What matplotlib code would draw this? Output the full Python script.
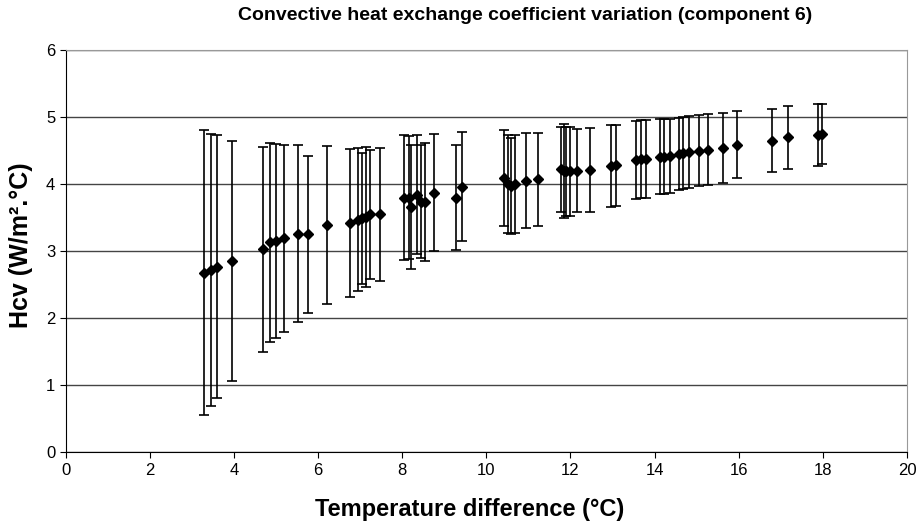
import numpy as np
import matplotlib
matplotlib.use("Agg")
import matplotlib.pyplot as plt

plt.rcParams['font.family'] = ['Liberation Sans', 'DejaVu Sans']

# Temperature difference (°C)
dT = np.array([3.30, 3.45, 3.60, 3.95, 4.69, 4.86, 5.01, 5.20, 5.52, 5.76,
               6.22, 6.77, 6.94, 7.04, 7.14, 7.24, 7.48, 8.04, 8.16, 8.22,
               8.36, 8.46, 8.54, 8.76, 9.27, 9.42, 10.42, 10.52, 10.58, 10.69,
               10.94, 11.23, 11.78, 11.84, 11.90, 11.98, 12.15, 12.47, 12.97, 13.08,
               13.57, 13.68, 13.80, 14.14, 14.23, 14.37, 14.59, 14.67, 14.81, 15.06,
               15.28, 15.63, 15.97, 16.80, 17.17, 17.88, 17.98])

# Hcv (W/m².°C)
hcv = np.array([2.68, 2.72, 2.77, 2.85, 3.03, 3.13, 3.15, 3.19, 3.26, 3.25,
                3.39, 3.42, 3.47, 3.49, 3.51, 3.55, 3.55, 3.80, 3.80, 3.66,
                3.84, 3.74, 3.74, 3.87, 3.80, 3.96, 4.09, 4.00, 3.97, 4.00,
                4.05, 4.07, 4.22, 4.19, 4.19, 4.19, 4.20, 4.21, 4.27, 4.28,
                4.36, 4.37, 4.38, 4.41, 4.41, 4.42, 4.45, 4.46, 4.48, 4.50,
                4.51, 4.54, 4.59, 4.65, 4.70, 4.73, 4.75])

# uncertainty (half width of error bar)
err = np.array([2.12, 2.03, 1.96, 1.79, 1.53, 1.48, 1.45, 1.40, 1.32, 1.17,
                1.18, 1.10, 1.07, 0.98, 1.04, 0.96, 0.99, 0.93, 0.91, 0.92,
                0.89, 0.84, 0.88, 0.87, 0.79, 0.81, 0.71, 0.73, 0.72, 0.73,
                0.71, 0.69, 0.63, 0.70, 0.66, 0.66, 0.62, 0.62, 0.61, 0.60,
                0.58, 0.58, 0.58, 0.56, 0.56, 0.55, 0.54, 0.54, 0.54, 0.53,
                0.53, 0.52, 0.50, 0.47, 0.47, 0.46, 0.45])

fig = plt.figure(figsize=(9.21, 5.29), dpi=100)
ax = fig.add_axes([0.0712, 0.145, 0.9136, 0.7605])

ax.errorbar(dT, hcv, yerr=err, fmt='D', color='black', markersize=5.5,
            elinewidth=1.2, capsize=3.5, capthick=1.2, zorder=3)

ax.set_xlim(0, 20)
ax.set_ylim(0, 6)
ax.set_xticks(np.arange(0, 21, 2))
ax.set_yticks(np.arange(0, 7, 1))
ax.yaxis.grid(True, color='#444444', linewidth=1)
ax.set_axisbelow(True)

for s in ['top', 'right']:
    ax.spines[s].set_color('#999999')
for s in ['left', 'bottom']:
    ax.spines[s].set_color('black')
ax.tick_params(direction='out', length=4, labelsize=12, colors='black')

fig.text(525 / 921, 1 - 15 / 529, 'Convective heat exchange coefficient variation (component 6)',
         fontsize=14, fontweight='bold', ha='center', va='center')
ax.set_xlabel('Temperature difference (°C)', fontsize=17, fontweight='bold')
ax.xaxis.set_label_coords(0.48, -0.113)
ax.set_ylabel('Hcv (W/m².°C)', fontsize=18, fontweight='bold')
ax.yaxis.set_label_coords(-0.039, 0.515)

fig.savefig('out.png', dpi=100)
